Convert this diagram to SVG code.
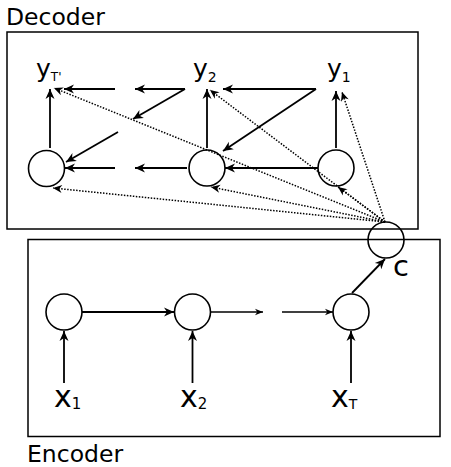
<svg xmlns="http://www.w3.org/2000/svg" width="451" height="467" viewBox="0 0 451 467">
<style>
text{font-family:"DejaVu Sans","Liberation Sans",sans-serif;fill:#000}
.box{fill:none;stroke:#000;stroke-width:1.5}
.node{fill:none;stroke:#000;stroke-width:1.6}
.a{fill:none;stroke:#000;stroke-width:1.8;marker-end:url(#ah)}
.b{fill:none;stroke:#000;stroke-width:1.3;marker-end:url(#as)}
.d{fill:none;stroke:#000;stroke-width:1.5;stroke-dasharray:1.5 1.5;marker-end:url(#ad)}
</style>
<defs>
<marker id="ah" markerUnits="userSpaceOnUse" viewBox="-11 -5 12 10" refX="0" refY="0" markerWidth="12" markerHeight="10" orient="auto">
<path d="M0,0 L-10,-4.5 L-7,0 L-10,4.5 Z" fill="#000"/>
</marker>
<marker id="as" markerUnits="userSpaceOnUse" viewBox="-11 -5 12 10" refX="0" refY="0" markerWidth="10" markerHeight="8" orient="auto">
<path d="M0,0 L-10,-4 L-7,0 L-10,4 Z" fill="#000"/>
</marker>
<marker id="ad" markerUnits="userSpaceOnUse" viewBox="-11 -5 12 10" refX="0" refY="0" markerWidth="11" markerHeight="9" orient="auto">
<path d="M0,0 L-10,-4.5 L-7,0 L-10,4.5 Z" fill="#000"/>
</marker>
</defs>

<g id="decoder-box">
<rect class="box" x="7" y="32" width="411" height="197"/>
<text x="6" y="25" font-size="23.5">Decoder</text>
</g>
<g id="encoder-box">
<rect class="box" x="28" y="239.5" width="412" height="197"/>
<text x="27" y="462" font-size="23.5">Encoder</text>
</g>

<g id="dec-node-T">
<circle class="node" cx="46.5" cy="168.5" r="18"/>
</g>
<g id="dec-node-2">
<circle class="node" cx="207" cy="168" r="18"/>
</g>
<g id="dec-node-1">
<circle class="node" cx="336" cy="168" r="18"/>
</g>
<g id="label-yT">
<text x="36" y="77" font-size="25">y<tspan font-size="12" dy="4">T'</tspan></text>
</g>
<g id="label-y2">
<text x="193" y="77" font-size="25">y<tspan font-size="14" dy="5">2</tspan></text>
</g>
<g id="label-y1">
<text x="327" y="77" font-size="25">y<tspan font-size="14" dy="5">1</tspan></text>
</g>
<g id="context">
<circle class="node" cx="386" cy="240" r="18"/>
<text x="393" y="276" font-size="29">c</text>
</g>
<g id="enc-node-1">
<circle class="node" cx="64" cy="312" r="18"/>
</g>
<g id="enc-node-2">
<circle class="node" cx="192.5" cy="312" r="18"/>
</g>
<g id="enc-node-T">
<circle class="node" cx="351" cy="312" r="18"/>
</g>
<g id="label-x1">
<text x="54" y="407" font-size="30">x<tspan font-size="15" dy="2">1</tspan></text>
</g>
<g id="label-x2">
<text x="180" y="407" font-size="30">x<tspan font-size="15" dy="2">2</tspan></text>
</g>
<g id="label-xT">
<text x="331" y="407" font-size="30">x<tspan font-size="14" dy="2">T</tspan></text>
</g>

<g id="connectors">
<line class="a" x1="50" y1="148" x2="50" y2="89"/>
<line class="a" x1="207" y1="148" x2="207" y2="89"/>
<line class="a" x1="336" y1="148" x2="336" y2="91"/>
<line class="a" x1="115" y1="89" x2="64" y2="89"/>
<line class="a" x1="185" y1="89" x2="135" y2="89"/>
<line class="a" x1="316" y1="89" x2="223" y2="89"/>
<line class="a" x1="185" y1="89" x2="133" y2="119"/>
<line class="a" x1="118" y1="132" x2="66" y2="162"/>
<line class="a" x1="316" y1="89" x2="223" y2="151"/>
<line class="a" x1="115" y1="168" x2="65" y2="168"/>
<line class="a" x1="187" y1="168" x2="135" y2="168"/>
<line class="a" x1="318" y1="168" x2="225" y2="168"/>
<line class="d" x1="385" y1="222" x2="54" y2="88"/>
<line class="d" x1="385" y1="222" x2="53" y2="188"/>
<line class="d" x1="385" y1="222" x2="211" y2="187"/>
<line class="d" x1="385" y1="222" x2="210" y2="90"/>
<line class="d" x1="385" y1="222" x2="338" y2="187"/>
<line class="d" x1="385" y1="222" x2="342" y2="92"/>
<line class="a" x1="352" y1="293" x2="385" y2="259"/>
<line class="a" x1="64" y1="383" x2="64" y2="331"/>
<line class="a" x1="192.5" y1="383" x2="192.5" y2="331"/>
<line class="a" x1="351" y1="383" x2="351" y2="331"/>
<line class="a" x1="82" y1="312" x2="174" y2="312" style="stroke-width:2.2"/>
<line class="b" x1="211" y1="312" x2="263" y2="312"/>
<line class="b" x1="282" y1="312" x2="333" y2="312"/>
</g>
</svg>
